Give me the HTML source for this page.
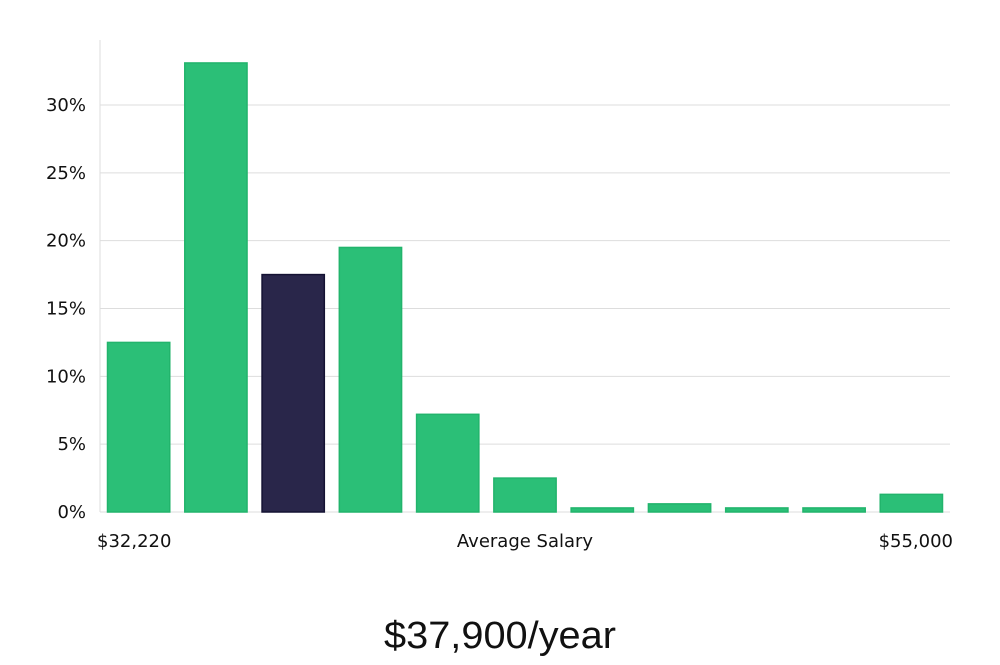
<!DOCTYPE html>
<html><head><meta charset="utf-8"><style>
body{margin:0;background:#fff;width:1000px;height:660px;overflow:hidden;font-family:"Liberation Sans","DejaVu Sans",sans-serif}
svg text{font-family:"DejaVu Sans","Liberation Sans",sans-serif}
</style></head><body>
<svg id="chart" width="1000" height="660" viewBox="0 0 1000 660">
<g id="grid"></g>
<line x1="100" y1="40" x2="100" y2="512" stroke="#dddddd" stroke-width="1"/>
<g id="yt"></g>
<g id="bars"></g>
<text x="97" y="547" font-size="18" fill="#111">$32,220</text>
<text x="525" y="547" font-size="18" fill="#111" text-anchor="middle">Average Salary</text>
<text x="953" y="547" font-size="18" fill="#111" text-anchor="end">$55,000</text>
<text x="500" y="648" font-size="38" fill="#111" text-anchor="middle" textLength="232" lengthAdjust="spacingAndGlyphs" style="font-family:'Liberation Sans',sans-serif">$37,900/year</text>
</svg>
<script>
const values=[12.5,33.1,17.5,19.5,7.2,2.5,0.3,0.6,0.3,0.3,1.3];
const highlight=[false,false,true,false,false,false,false,false,false,false,false];
const ticks=[0,5,10,15,20,25,30];
const tickLabels=["0%","5%","10%","15%","20%","25%","30%"];
const NS="http://www.w3.org/2000/svg";
const x0=100,x1=950,y0=512,pxPer=(512-105)/30;
const y=v=>y0-v*pxPer;
const slot=(x1-x0)/values.length;
const grid=document.getElementById('grid'),yt=document.getElementById('yt'),bars=document.getElementById('bars');
ticks.forEach((t,i)=>{
 const l=document.createElementNS(NS,'line');
 
 
 l.setAttribute('x1',x0);l.setAttribute('x2',x1);l.setAttribute('y1',y(t));l.setAttribute('y2',y(t));
 l.setAttribute('stroke','#dddddd');l.setAttribute('stroke-width','1');grid.appendChild(l);
 const tx=document.createElementNS(NS,'text');
 
 
 tx.setAttribute('x',86);tx.setAttribute('y',y(t)+6);tx.setAttribute('text-anchor','end');
 tx.setAttribute('font-size','18');tx.setAttribute('fill','#111');tx.textContent=tickLabels[i];yt.appendChild(tx);
});
values.forEach((v,i)=>{
 const r=document.createElementNS(NS,'rect');
 
 
 r.setAttribute('x',x0+i*slot+7.5);r.setAttribute('width',slot-15);
 r.setAttribute('y',y(v));r.setAttribute('height',y0-y(v));
 r.setAttribute('fill',highlight[i]?'#29264a':'#2bbf77');
 r.setAttribute('stroke',highlight[i]?'#141233':'#22b46c');r.setAttribute('stroke-width','1.5');
 bars.appendChild(r);
});
</script>
</body></html>
